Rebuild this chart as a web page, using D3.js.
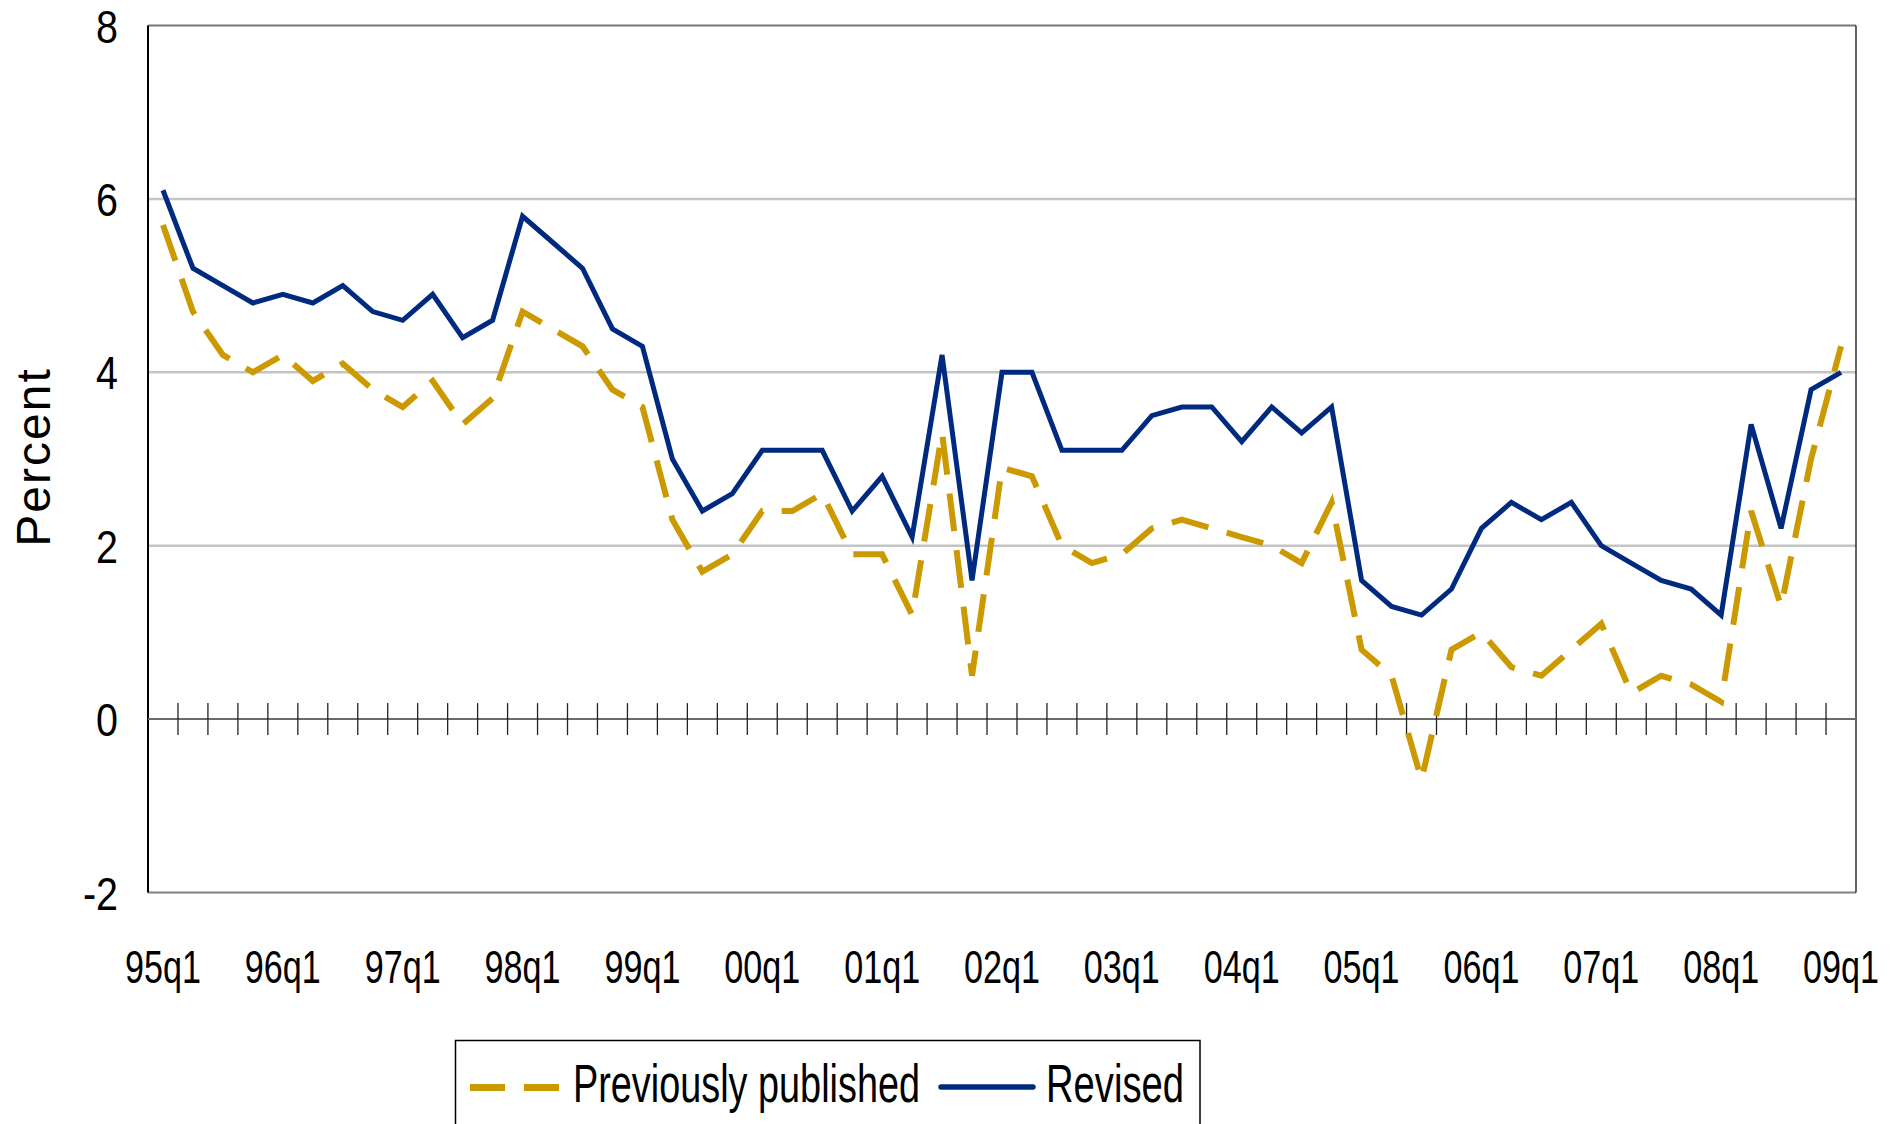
<!doctype html>
<html>
<head>
<meta charset="utf-8" />
<title>Previously published vs revised</title>
<style>
  html,body{margin:0;background:#fff}
  svg{display:block}
  .lbl{font-family:"Liberation Sans Narrow","Arial Narrow","Liberation Sans",sans-serif;fill:#000}
</style>
</head>
<body>
<svg id="chart" width="1898" height="1124"></svg>

<script src="https://cdn.jsdelivr.net/npm/d3@7"></script>
<script>
// ---- data ----
const quarters = [
  "95q1","95q2","95q3","95q4","96q1","96q2","96q3","96q4",
  "97q1","97q2","97q3","97q4","98q1","98q2","98q3","98q4",
  "99q1","99q2","99q3","99q4","00q1","00q2","00q3","00q4",
  "01q1","01q2","01q3","01q4","02q1","02q2","02q3","02q4",
  "03q1","03q2","03q3","03q4","04q1","04q2","04q3","04q4",
  "05q1","05q2","05q3","05q4","06q1","06q2","06q3","06q4",
  "07q1","07q2","07q3","07q4","08q1","08q2","08q3","08q4",
  "09q1"
];

const previouslyPublished = [
  5.7, 4.7, 4.2, 4.0,   4.2, 3.9, 4.1, 3.8,
  3.6, 3.9, 3.4, 3.7,   4.7, 4.5, 4.3, 3.8,
  3.6, 2.3, 1.7, 1.9,   2.4, 2.4, 2.6, 1.9,
  1.9, 1.2, 3.3, 0.5,   2.9, 2.8, 2.0, 1.8,
  1.9, 2.2, 2.3, 2.2,   2.1, 2.0, 1.8, 2.5,
  0.8, 0.5, -0.7, 0.8,  1.0, 0.6, 0.5, 0.8,
  1.1, 0.3, 0.5, 0.4,   0.2, 2.4, 1.3, 3.0,
  4.3
];

const revised = [
  6.1, 5.2, 5.0, 4.8,   4.9, 4.8, 5.0, 4.7,
  4.6, 4.9, 4.4, 4.6,   5.8, 5.5, 5.2, 4.5,
  4.3, 3.0, 2.4, 2.6,   3.1, 3.1, 3.1, 2.4,
  2.8, 2.1, 4.2, 1.6,   4.0, 4.0, 3.1, 3.1,
  3.1, 3.5, 3.6, 3.6,   3.2, 3.6, 3.3, 3.6,
  1.6, 1.3, 1.2, 1.5,   2.2, 2.5, 2.3, 2.5,
  2.0, 1.8, 1.6, 1.5,   1.2, 3.4, 2.2, 3.8,
  4.0
];

const yTicks = [-2, 0, 2, 4, 6, 8];
const xLabels = ["95q1","96q1","97q1","98q1","99q1","00q1","01q1",
                 "02q1","03q1","04q1","05q1","06q1","07q1","08q1","09q1"];

const seriesNames = ["Previously published", "Revised"];

// ---- layout ----
const GOLD = "#cc9900", NAVY = "#002a80";
const plot = {left:148, right:1856, top:25.5, bottom:892.5};

const svg = d3.select("#chart");

const x = d3.scaleBand().domain(quarters).range([plot.left, plot.right]).padding(0);
const y = d3.scaleLinear().domain([-2, 8]).range([plot.bottom, plot.top]);
const cx = q => x(q) + x.bandwidth()/2;

// gridlines (2,4,6)
svg.append("g").selectAll("line")
  .data(yTicks.filter(v => v > 0 && v < 8))
  .join("line")
  .attr("x1", plot.left).attr("x2", plot.right)
  .attr("y1", d => y(d)).attr("y2", d => y(d))
  .attr("stroke", "#c4c4c4").attr("stroke-width", 2.5);

// frame: top / bottom grey, left / right black
svg.append("line").attr("x1", plot.left).attr("x2", plot.right)
  .attr("y1", y(8)).attr("y2", y(8)).attr("stroke", "#767676").attr("stroke-width", 2);
svg.append("line").attr("x1", plot.left).attr("x2", plot.right)
  .attr("y1", y(-2)).attr("y2", y(-2)).attr("stroke", "#808080").attr("stroke-width", 2);
svg.append("line").attr("x1", plot.left).attr("x2", plot.left)
  .attr("y1", y(8)).attr("y2", y(-2)).attr("stroke", "#000").attr("stroke-width", 2);
svg.append("line").attr("x1", plot.right).attr("x2", plot.right)
  .attr("y1", y(8)).attr("y2", y(-2)).attr("stroke", "#000").attr("stroke-width", 1.2);

// zero axis with crossing tick marks at category boundaries
svg.append("line").attr("x1", plot.left).attr("x2", plot.right)
  .attr("y1", y(0)).attr("y2", y(0)).attr("stroke", "#6a6a6a").attr("stroke-width", 2);
svg.append("g").selectAll("line")
  .data(quarters.slice(1))
  .join("line")
  .attr("x1", d => x(d)).attr("x2", d => x(d))
  .attr("y1", y(0) - 16).attr("y2", y(0) + 16)
  .attr("stroke", "#222").attr("stroke-width", 1.3);

// y tick labels (condensed)
svg.append("g").selectAll("text")
  .data(yTicks)
  .join("text")
  .attr("class", "lbl")
  .attr("transform", d => `translate(118,${y(d) + 17}) scale(0.84,1)`)
  .attr("text-anchor", "end")
  .attr("font-size", 47)
  .text(d => d);

// x labels (every year)
svg.append("g").selectAll("text")
  .data(xLabels)
  .join("text")
  .attr("class", "lbl")
  .attr("x", d => cx(d)).attr("y", 983)
  .attr("text-anchor", "middle")
  .attr("font-size", 47)
  .attr("textLength", 76).attr("lengthAdjust", "spacingAndGlyphs")
  .text(d => d);

// y axis title
svg.append("text")
  .attr("transform", "translate(50,457) rotate(-90)")
  .attr("text-anchor", "middle")
  .attr("font-family", "'Liberation Sans', Arial, sans-serif")
  .attr("font-size", 48)
  .attr("letter-spacing", 2)
  .text("Percent");

// series lines
const line = vals => d3.line()
  .x((d, i) => cx(quarters[i]))
  .y(d => y(d))(vals);

svg.append("path")
  .attr("d", line(previouslyPublished))
  .attr("fill", "none").attr("stroke", GOLD)
  .attr("stroke-width", 6).attr("stroke-dasharray", "38 19")
  .attr("stroke-linejoin", "miter");

svg.append("path")
  .attr("d", line(revised))
  .attr("fill", "none").attr("stroke", NAVY)
  .attr("stroke-width", 5).attr("stroke-linejoin", "miter");

// legend
const lg = svg.append("g");
lg.append("rect").attr("x", 455.5).attr("y", 1040.5).attr("width", 744.5).attr("height", 120)
  .attr("fill", "#fff").attr("stroke", "#000").attr("stroke-width", 1.5);
lg.append("line").attr("x1", 470).attr("x2", 560).attr("y1", 1087.5).attr("y2", 1087.5)
  .attr("stroke", GOLD).attr("stroke-width", 7).attr("stroke-dasharray", "35 19");
lg.append("text").attr("class", "lbl")
  .attr("x", 573).attr("y", 1102)
  .attr("font-size", 54)
  .attr("textLength", 347).attr("lengthAdjust", "spacingAndGlyphs")
  .text(seriesNames[0]);
lg.append("line").attr("x1", 941).attr("x2", 1033).attr("y1", 1087).attr("y2", 1087)
  .attr("stroke", NAVY).attr("stroke-width", 5.5).attr("stroke-linecap", "round");
lg.append("text").attr("class", "lbl")
  .attr("x", 1046).attr("y", 1102)
  .attr("font-size", 54)
  .attr("textLength", 138).attr("lengthAdjust", "spacingAndGlyphs")
  .text(seriesNames[1]);
</script>
</body>
</html>
